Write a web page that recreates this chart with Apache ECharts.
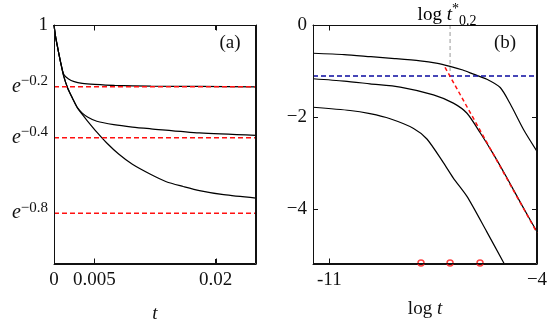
<!DOCTYPE html>
<html>
<head>
<meta charset="utf-8">
<script src="https://cdn.jsdelivr.net/npm/echarts@6/dist/echarts.min.js"></script>
<style>
  html, body { margin: 0; padding: 0; background: #fff; }
  #main { width: 551px; height: 323px; }
</style>
</head>
<body>
<div id="main"></div>
<script>
// (a) relaxation curves, x = t, y = value (linear axis, labels as powers of e)
var aTop = [[0, 1], [0.0002, 0.965], [0.0004, 0.94], [0.0008, 0.893], [0.0012, 0.856], [0.0018, 0.842],
    [0.0025, 0.834], [0.0035, 0.829], [0.005, 0.826], [0.0075, 0.823], [0.012, 0.821], [0.018, 0.82], [0.025, 0.819]];
var aMid = [[0, 1], [0.0002, 0.965], [0.0004, 0.94], [0.0008, 0.893], [0.0012, 0.85], [0.0017, 0.815],
    [0.0023, 0.785], [0.0029, 0.758], [0.0035, 0.742], [0.0042, 0.73], [0.0053, 0.718], [0.0074, 0.708],
    [0.0097, 0.701], [0.012, 0.696], [0.018, 0.684], [0.025, 0.677]];
var aLow = [[0, 1], [0.0002, 0.965], [0.0004, 0.94], [0.0008, 0.893], [0.0012, 0.85], [0.0017, 0.815],
    [0.0023, 0.785], [0.0029, 0.757], [0.0035, 0.738], [0.0041, 0.72], [0.0053, 0.686], [0.0065, 0.655],
    [0.008, 0.622], [0.0097, 0.592], [0.012, 0.562], [0.0139, 0.541], [0.016, 0.527], [0.018, 0.515],
    [0.021, 0.503], [0.025, 0.493]];
var aLevels = [0.819, 0.670, 0.449];
var aXRange = [0, 0.025];
var aYRange = [0.3, 1];
var aXTicks = [0, 0.005, 0.02];
var aXLabels = ['0', '0.005', '0.02'];
var aYTicks = [1, 0.819, 0.670, 0.449];
var aYLabels = ['1', '{e|e}{s|−0.2}', '{e|e}{s|−0.4}', '{e|e}{s|−0.8}'];

// (b) same curves on log-log axes
var bTop = [[-11.55, -0.615], [-10.5, -0.645], [-9.6, -0.69], [-8.8, -0.73], [-7.94, -0.78], [-7.4, -0.83],
    [-6.93, -0.9], [-6.5, -0.98], [-6.14, -1.07], [-5.69, -1.18], [-5.24, -1.36], [-4.9, -1.72],
    [-4.45, -2.28], [-4, -2.75]];
var bMid = [[-11.55, -1.17], [-10.5, -1.22], [-9.63, -1.28], [-8.61, -1.35], [-7.49, -1.52], [-6.82, -1.7],
    [-6.36, -1.92], [-5.91, -2.35], [-5.46, -2.82], [-5.01, -3.33], [-4.5, -3.93], [-4, -4.5]];
var bLow = [[-11.55, -1.79], [-10.3, -1.86], [-9.63, -1.93], [-8.95, -2.04], [-8.16, -2.25], [-7.71, -2.48],
    [-7.15, -3.0], [-6.82, -3.33], [-6.36, -3.73], [-5.7, -4.49], [-5.1, -5.2]];
var bLevel = -1.11;
var tStar = -6.93;
var bSlope = [[-7.1, -0.92], [-4, -4.52]];
var bMarks = [-7.91, -6.93, -5.92];
var bXRange = [-11.55, -4];
var bYRange = [-5.2, 0];
var bXTicks = [-11, -4];
var bXLabels = ['-11', '−4'];
var bYTicks = [0, -2, -4];
var bYLabels = ['0', '−2', '−4'];

var FONT = 'Liberation Serif';
var ink = '#111';

var rich = {
    e: { fontFamily: FONT, fontStyle: 'italic', fontSize: 20, lineHeight: 26, verticalAlign: 'middle', color: ink },
    s: { fontFamily: FONT, fontSize: 15, lineHeight: 15, verticalAlign: 'top', color: ink },
    i: { fontFamily: FONT, fontStyle: 'italic', fontSize: 19, lineHeight: 26, verticalAlign: 'middle', color: ink },
    r: { fontFamily: FONT, fontSize: 19, lineHeight: 26, verticalAlign: 'middle', color: ink },
    sub: { fontFamily: FONT, fontSize: 14, lineHeight: 14, verticalAlign: 'bottom', color: ink },
    sup: { fontFamily: FONT, fontSize: 14, lineHeight: 14, verticalAlign: 'top', color: ink }
};

function lookup(ticks, labels) {
    return function (v) {
        for (var k = 0; k < ticks.length; k++) {
            if (Math.abs(ticks[k] - v) < 1e-9) return labels[k];
        }
        return '';
    };
}

function frameAxis(extra) {
    var ax = {
        type: 'value',
        axisLine: { show: true, onZero: false, lineStyle: { color: ink, width: 1 } },
        axisTick: { show: false },
        axisLabel: { show: false },
        splitLine: { show: false }
    };
    for (var key in extra) ax[key] = extra[key];
    return ax;
}

function tickStyle(values) {
    return { show: true, inside: true, length: 5, customValues: values, lineStyle: { color: ink, width: 1 } };
}

function curve(data, xi, yi) {
    return {
        type: 'line', xAxisIndex: xi, yAxisIndex: yi, data: data, symbol: 'none',
        smooth: 0.25,
        lineStyle: { color: '#000', width: 1.2 }, z: 3
    };
}

function dashed(data, xi, yi, color, width, dash) {
    return {
        type: 'line', xAxisIndex: xi, yAxisIndex: yi, data: data, symbol: 'none',
        lineStyle: { color: color, width: width, type: dash }, z: 4
    };
}

var chart = echarts.init(document.getElementById('main'));

var series = [
    curve(aTop, 0, 0), curve(aMid, 0, 0), curve(aLow, 0, 0),
    curve(bTop, 2, 2), curve(bMid, 2, 2), curve(bLow, 2, 2)
];
aLevels.forEach(function (lv) {
    series.push(dashed([[aXRange[0], lv], [aXRange[1], lv]], 0, 0, '#ff1010', 1.5, [5, 3]));
});
series.push(dashed([[bXRange[0], bLevel], [bXRange[1], bLevel]], 2, 2, '#0a0aa0', 1.6, [5, 3]));
series.push(dashed([[tStar, 0], [tStar, bLevel + 0.1]], 2, 2, '#999', 1, [4, 3]));
series.push(dashed(bSlope, 2, 2, '#ff1010', 1.5, [4, 3]));
series.push({
    type: 'scatter', xAxisIndex: 2, yAxisIndex: 2, clip: false,
    data: bMarks.map(function (x) { return [x, bYRange[0]]; }),
    symbol: 'circle', symbolSize: 6, symbolOffset: [0, -1],
    itemStyle: { color: 'rgba(255,255,255,0)', borderColor: '#ff1010', borderWidth: 1.5 }, z: 1
});

var option = {
    animation: false,
    backgroundColor: '#fff',
    grid: [
        { left: 54, top: 25, width: 202, height: 239, outerBoundsMode: 'none' },
        { left: 313, top: 25, width: 224, height: 239, outerBoundsMode: 'none' }
    ],
    xAxis: [
        frameAxis({
            gridIndex: 0, min: aXRange[0], max: aXRange[1], position: 'bottom',
            axisTick: tickStyle([0.005, 0.02]),
            axisLabel: { show: true, customValues: aXTicks, formatter: lookup(aXTicks, aXLabels),
                fontFamily: FONT, fontSize: 19, color: ink, margin: 7 },
            name: 't', nameLocation: 'middle', nameGap: 40,
            nameTextStyle: { fontFamily: FONT, fontStyle: 'italic', fontSize: 19, color: ink }
        }),
        frameAxis({ gridIndex: 0, min: aXRange[0], max: aXRange[1], position: 'top', axisTick: tickStyle([0.005, 0.02]) }),
        frameAxis({
            gridIndex: 1, min: bXRange[0], max: bXRange[1], position: 'bottom',
            axisTick: tickStyle([-11]),
            axisLabel: { show: true, customValues: bXTicks, formatter: lookup(bXTicks, bXLabels),
                fontFamily: FONT, fontSize: 19, color: ink, margin: 7 },
            name: '{r|log }{i|t}', nameLocation: 'middle', nameGap: 32,
            nameTextStyle: { rich: rich }
        }),
        frameAxis({ gridIndex: 1, min: bXRange[0], max: bXRange[1], position: 'top', axisTick: tickStyle([-11]) })
    ],
    yAxis: [
        frameAxis({
            gridIndex: 0, min: aYRange[0], max: aYRange[1], position: 'left',
            axisLabel: { show: true, customValues: aYTicks, formatter: lookup(aYTicks, aYLabels),
                fontFamily: FONT, fontSize: 19, color: ink, margin: 6, rich: rich }
        }),
        frameAxis({ gridIndex: 0, min: aYRange[0], max: aYRange[1], position: 'right' }),
        frameAxis({
            gridIndex: 1, min: bYRange[0], max: bYRange[1], position: 'left',
            axisTick: tickStyle([-2, -4]),
            axisLabel: { show: true, customValues: bYTicks, formatter: lookup(bYTicks, bYLabels),
                fontFamily: FONT, fontSize: 19, color: ink, margin: 6 }
        }),
        frameAxis({ gridIndex: 1, min: bYRange[0], max: bYRange[1], position: 'right', axisTick: tickStyle([-2, -4]) })
    ],
    graphic: [
        { type: 'text', x: 230, y: 43, style: { text: '(a)', font: '19px "Liberation Serif"', fill: ink,
            align: 'center', verticalAlign: 'middle' } },
        { type: 'text', x: 505, y: 43, style: { text: '(b)', font: '19px "Liberation Serif"', fill: ink,
            align: 'center', verticalAlign: 'middle' } },
        { type: 'text', x: 447, y: 15, style: { text: '{r|log }{i|t}{sup|*}{sub|0.2}', rich: rich,
            align: 'center', verticalAlign: 'middle' } }
    ],
    series: series
};

chart.setOption(option);

// frame box and x ticks, positioned through the grids' own scales
function frameGraphics(gi, xr, yr, ticks) {
    var finder = { xAxisIndex: gi * 2, yAxisIndex: gi * 2 };
    var p0 = chart.convertToPixel(finder, [xr[0], yr[1]]);
    var p1 = chart.convertToPixel(finder, [xr[1], yr[0]]);
    var x0 = Math.round(p0[0]) + 0.5, y0 = Math.round(p0[1]) + 0.5;
    var x1 = Math.round(p1[0]) - 0.5, y1 = Math.round(p1[1]) - 0.5;
    var els = [{
        type: 'rect', z: 100, silent: true,
        shape: { x: x0, y: y0, width: x1 - x0, height: y1 - y0 },
        style: { fill: null, stroke: ink, lineWidth: 1 }
    }];
    ticks.forEach(function (t) {
        var tx = Math.round(chart.convertToPixel(finder, [t, yr[0]])[0]) + 0.5;
        els.push({ type: 'line', z: 100, silent: true, shape: { x1: tx, y1: y0, x2: tx, y2: y0 + 5 },
            style: { stroke: ink, lineWidth: 1 } });
        els.push({ type: 'line', z: 100, silent: true, shape: { x1: tx, y1: y1, x2: tx, y2: y1 - 5 },
            style: { stroke: ink, lineWidth: 1 } });
    });
    return els;
}

chart.setOption({
    graphic: option.graphic.concat(
        frameGraphics(0, aXRange, aYRange, [0.005, 0.02]),
        frameGraphics(1, bXRange, bYRange, [-11])
    )
});
</script>
</body>
</html>
